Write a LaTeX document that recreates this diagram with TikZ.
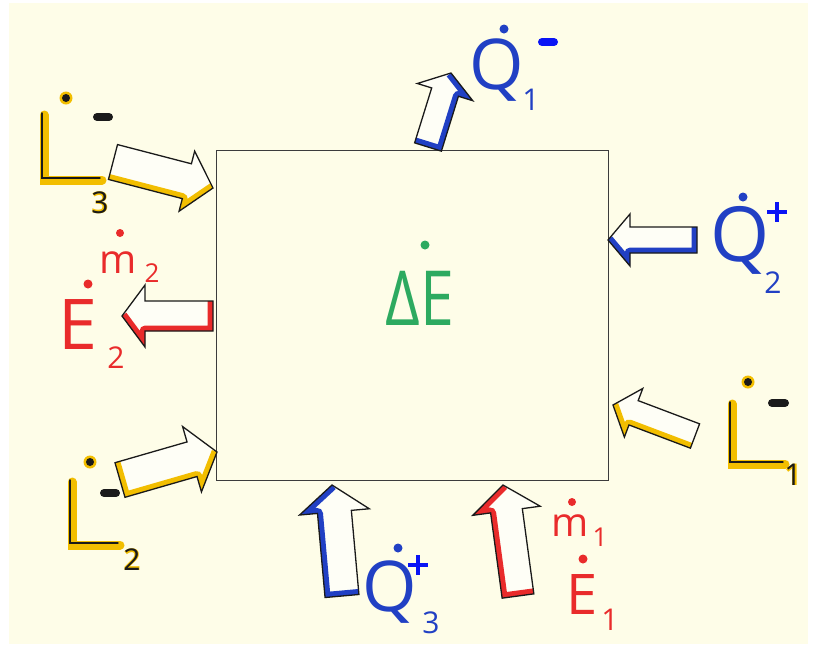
\documentclass[tikz,border=0pt]{standalone}
\usepackage{fontspec}
\setmainfont{Open Sans}
\usepackage{xcolor}
\usepackage{graphicx}
\usepackage{tikz}
\usetikzlibrary{calc}
\definecolor{paper}{HTML}{FEFDE8}
\definecolor{gold}{HTML}{F2BE00}
\definecolor{qblue}{HTML}{2140C4}
\definecolor{signblue}{HTML}{0A14F5}
\definecolor{mred}{HTML}{E92B2B}
\definecolor{mgreen}{HTML}{2DAA60}
\definecolor{ink}{HTML}{1A1A1A}
\newcommand{\flowarrow}[8]{%
    % #1=tail, #2=tip, #3=half shaft, #4=half head, #5=head length
    % #6=colour, #7=shaded side (a/b), #8=corner where the shading starts
    \coordinate (n) at ($(#2)!#5pt!(#1)$);
    \coordinate (ta) at ($(#1)!#3pt!90:(#2)$);
    \coordinate (tb) at ($(#1)!#3pt!-90:(#2)$);
    \coordinate (na) at ($(n)!#3pt!90:(#2)$);
    \coordinate (nb) at ($(n)!#3pt!-90:(#2)$);
    \coordinate (ha) at ($(n)!#4pt!90:(#2)$);
    \coordinate (hb) at ($(n)!#4pt!-90:(#2)$);
    \fill[white!60!paper] (ta) -- (na) -- (ha) -- (#2) -- (hb) -- (nb) -- (tb) -- cycle;
    \begin{scope}
        \clip (ta) -- (na) -- (ha) -- (#2) -- (hb) -- (nb) -- (tb) -- cycle;
        \draw[#6, line width=11pt, line join=round] (#8) -- (t#7) -- (n#7) -- (h#7) -- (#2);
    \end{scope}
    \draw[ink, line width=1.3pt, line join=miter] (ta) -- (na) -- (ha) -- (#2) -- (hb) -- (nb) -- (tb) -- cycle;
}

\begin{document}
\begin{tikzpicture}[x=1pt, y=-1pt,
    cvbox/.style={draw=ink!85, line width=1.2pt, minimum width=392pt, minimum height=330pt, inner sep=0pt},
    letter/.style={inner sep=0pt, font=\fontsize{70}{70}\selectfont},
    sub/.style={inner sep=0pt, font=\fontsize{30}{30}\selectfont},
    small/.style={inner sep=0pt, font=\fontsize{40}{40}\selectfont},
    penL/.style={draw=ink, line width=1.4pt, line cap=round,
        preaction={draw=gold, line width=9pt, line cap=round, transform canvas={shift={(2pt,-2pt)}}}},
    bar/.style={line width=8pt, line cap=round},
    cross/.style={signblue, line width=4.5pt}
]
    \useasboundingbox (0,0) rectangle (815,649);
    \fill[paper] (9,3) rectangle (808,644);

    \node[cvbox] (cv) at (412.5,315.5) {};
    \node[letter, text=mgreen, font=\fontsize{76}{76}\selectfont] (de) at (420,298) {\scalebox{0.8}[1]{ΔE}};
    \fill[mgreen] (425,245) circle (4.5);

    % arrows
    \coordinate (l3tail) at (113,162); \coordinate (l3tip) at (213,188);
    \coordinate (e2tail) at (213,316); \coordinate (e2tip) at (122,316);
    \coordinate (l2tail) at (120,480); \coordinate (l2tip) at (217,452);
    \coordinate (q3tail) at (342,596); \coordinate (q3tip) at (332,485);
    \coordinate (e1tail) at (518,596); \coordinate (e1tip) at (503,485);
    \coordinate (q1tail) at (428,147); \coordinate (q1tip) at (451,73);
    \coordinate (q2tail) at (697,240); \coordinate (q2tip) at (608,240);
    \coordinate (l1tail) at (695,436); \coordinate (l1tip) at (613,405);

    \flowarrow{l3tail}{l3tip}{18}{31}{27}{gold}{b}{tb}
    \flowarrow{e2tail}{e2tip}{15}{31}{23}{mred}{a}{tb}
    \flowarrow{l2tail}{l2tip}{18}{34}{26}{gold}{b}{ta}
    \flowarrow{q3tail}{q3tip}{17}{35}{27}{qblue}{a}{tb}
    \flowarrow{e1tail}{e1tip}{16}{34}{26}{mred}{a}{tb}
    \flowarrow{q1tail}{q1tip}{14}{29}{20}{qblue}{b}{ta}
    \flowarrow{q2tail}{q2tip}{13}{26}{22}{qblue}{a}{tb}
    \flowarrow{l1tail}{l1tip}{13}{26}{22}{gold}{a}{ta}

    % heat
    \node[letter, text=qblue] (q1) at (497,70) {Q};
    \fill[qblue] (504,29) circle (4.5);
    \node[sub, text=qblue] (q1sub) at (531,100) {1};
    \draw[bar, signblue] (542,42) -- (554,42);

    \node[letter, text=qblue, font=\fontsize{76}{76}\selectfont] (q2) at (740,240) {Q};
    \fill[qblue] (743,197) circle (4.5);
    \node[sub, text=qblue] (q2sub) at (773,283) {2};
    \draw[cross] (767,212) -- (787,212) (777,202) -- (777,222);

    \node[letter, text=qblue] (q3) at (390,592) {Q};
    \fill[qblue] (398,548) circle (4.5);
    \node[sub, text=qblue] (q3sub) at (431,623) {3};
    \draw[cross] (408,565) -- (428,565) (418,555) -- (418,575);

    % mass flows
    \node[letter, text=mred] (e2) at (78,325) {E};
    \fill[mred] (88,284) circle (4.5);
    \node[sub, text=mred] (e2sub) at (116,358) {2};
    \node[small, text=mred] (m2) at (118,263) {m};
    \fill[mred] (120,233) circle (4);
    \node[sub, text=mred, font=\fontsize{26}{26}\selectfont] (m2sub) at (152,273) {2};

    \node[letter, text=mred, font=\fontsize{56}{56}\selectfont] (e1) at (582,595) {E};
    \fill[mred] (583,559) circle (4.5);
    \node[sub, text=mred] (e1sub) at (610,620) {1};
    \node[small, text=mred] (m1) at (570,526) {m};
    \fill[mred] (572,502) circle (4);
    \node[sub, text=mred, font=\fontsize{26}{26}\selectfont] (m1sub) at (600,537) {1};

    % work
    \draw[penL] (42,113) -- (42,178) -- (100,178);
    \fill[gold] (66,98) circle (6.5); \fill[ink] (66,98) circle (4);
    \draw[bar, ink] (97,117) -- (109,117);
    \node[sub, text=gold, font=\fontsize{30}{30}\selectfont\bfseries] (l3g) at (100,203) {3};
    \node[sub, text=ink] (l3sub) at (l3g) {3};

    \draw[penL] (70,480) -- (70,543) -- (118,543);
    \fill[gold] (90,462) circle (6.5); \fill[ink] (90,462) circle (4);
    \draw[bar, ink] (104,493) -- (116,493);
    \node[sub, text=gold, font=\fontsize{30}{30}\selectfont\bfseries] (l2g) at (132,560) {2};
    \node[sub, text=ink] (l2sub) at (l2g) {2};

    \draw[penL] (730,402) -- (730,462) -- (783,462);
    \fill[gold] (748,382) circle (6.5); \fill[ink] (748,382) circle (4);
    \draw[bar, ink] (772,403) -- (785,403);
    \node[sub, text=gold, font=\fontsize{30}{30}\selectfont\bfseries] (l1g) at (793,475) {1};
    \node[sub, text=ink] (l1sub) at (l1g) {1};
\end{tikzpicture}
\end{document}
